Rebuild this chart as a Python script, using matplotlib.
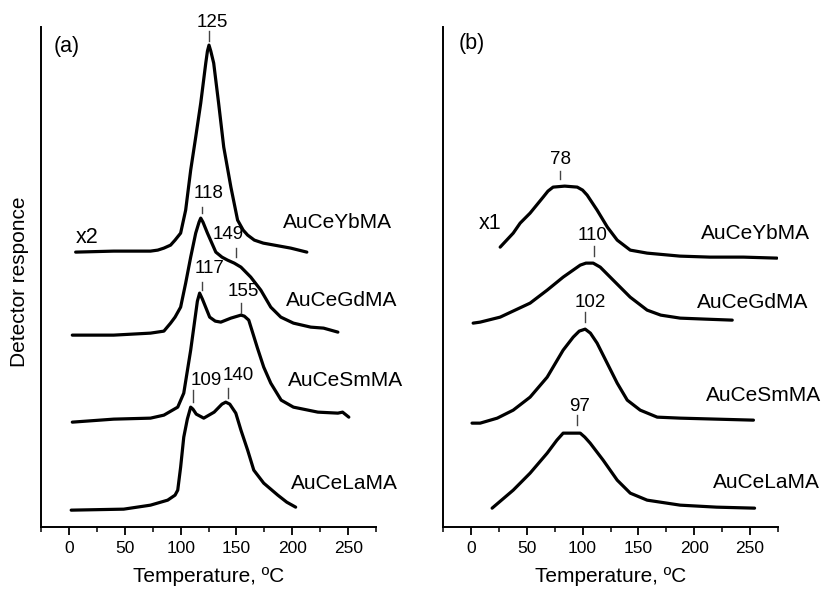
import matplotlib.pyplot as plt

plt.rcParams['font.family'] = ['Liberation Sans', 'DejaVu Sans']

# TPR profiles, panel (a): temperature in C, detector response in arbitrary units
a_yb_t = [6, 40, 73, 79.5, 85, 91, 95, 100, 104.5, 109, 113.5, 118, 122.5, 124, 125.4, 127, 129.6, 134, 138.6, 145, 151, 156, 160, 166, 174, 198.6, 213]
a_yb_y = [275, 276, 276, 277, 279, 282, 287, 294, 317, 357, 390, 424, 464, 476, 482, 476, 464, 424, 380, 340, 307, 297, 292, 287, 284, 279, 275]
a_gd_t = [3, 40, 73, 85, 91, 95, 100, 104.5, 109, 113.5, 116.5, 118, 120, 124, 131.5, 137, 142, 148, 154, 162.8, 171.8, 180.7, 189.7, 201, 216.5, 228, 240.8]
a_gd_y = [192, 192, 194, 196, 204, 210, 220, 244, 270, 294, 305, 309, 305, 294, 275, 270, 267, 264, 260, 250, 237, 220, 210, 204, 200, 199, 195]
a_sm_t = [3, 40, 73, 85, 97.4, 102.8, 109, 115, 117, 119.5, 126, 131, 136, 145, 154, 157, 161, 168.8, 174.4, 180.7, 190, 201, 222.9, 240.8, 245, 250.6]
a_sm_y = [105, 108, 109, 112, 120, 134, 177, 226, 234, 228, 210, 206, 205, 209, 212, 211, 207, 179, 160, 144, 127, 120, 115, 114, 115, 110]
a_la_t = [2, 49, 73, 88.4, 95, 97.4, 100, 102.8, 106, 109, 111, 114, 120.7, 130, 137, 140.4, 144, 149.4, 154, 160, 165.5, 174.4, 187, 195, 203]
a_la_y = [17, 18, 22, 27, 32, 37, 60, 90, 108, 120, 118, 113, 109, 115, 123, 125, 123, 114, 97, 77, 57, 44, 32, 25, 20]

# panel (b)
b_yb_t = [26.2, 37.9, 44.1, 53, 64.7, 69, 73.6, 84, 95.2, 100, 104.1, 113, 122.2, 131, 142.7, 157.8, 187.2, 214, 244, 274]
b_yb_y = [280, 294, 304, 314, 330, 336, 340, 341, 340, 337, 332, 317, 300, 287, 277, 274, 271, 270, 270, 269]
b_gd_t = [2, 8.3, 26.2, 53, 68.3, 82.6, 97.9, 103, 109.5, 115.8, 127.4, 142.6, 157.8, 170, 187.4, 210, 234]
b_gd_y = [204, 205, 210, 224, 237, 250, 262, 264, 264, 260, 247, 230, 217, 212, 209, 208, 207]
b_sm_t = [1, 8.3, 23.6, 37.9, 53, 68.3, 82.6, 91.6, 97, 102.3, 107, 113, 122, 131, 140, 151.6, 166.8, 187.4, 220, 253]
b_sm_y = [104, 104, 109, 117, 130, 150, 177, 190, 196, 198, 194, 184, 164, 144, 127, 117, 110, 109, 108, 107]
b_la_t = [19, 37.9, 53, 68.3, 77, 82.6, 97.9, 102, 106.8, 118.4, 131, 142.7, 157.8, 187.4, 220, 254]
b_la_y = [19, 37, 54, 74, 87, 94, 94, 90, 84, 67, 47, 34, 27, 22, 20, 19]

samples = ["AuCeYbMA", "AuCeGdMA", "AuCeSmMA", "AuCeLaMA"]

# peak labels: text, text x/y, tick x, tick y bottom/top
a_peaks = ["125", "118", "149", "117", "155", "109", "140"]
a_peak_tx = [128, 124.7, 143, 126, 156.5, 123, 152]
a_peak_ty = [505, 334, 293, 259, 236, 147, 152]
a_tick_x = [125, 119, 150, 119.5, 154.5, 111.5, 142]
a_tick_y0 = [486, 314, 270, 237, 214, 125, 129]
a_tick_y1 = [496, 320, 279, 245, 224, 137, 139]
b_peaks = ["78", "110", "102", "97"]
b_peak_tx = [80.4, 108.6, 106.8, 97]
b_peak_ty = [367.5, 292, 225, 121]
b_tick_x = [80, 110.4, 102.4, 95]
b_tick_y0 = [348, 271, 205, 102]
b_tick_y1 = [356, 281, 215, 112]

a_name_x = [240.8, 244, 248, 247]
a_name_y = [305, 227, 147, 44]
b_name_x = [254.5, 252.7, 261.7, 264.4]
b_name_y = [294, 225, 132, 45]

fig = plt.figure(figsize=(8.24, 5.89), dpi=100)
ax1 = fig.add_axes([0.0498, 0.105, 0.4066, 0.849])
ax2 = fig.add_axes([0.5376, 0.105, 0.4066, 0.849])

panels = [
    (ax1, [(a_yb_t, a_yb_y), (a_gd_t, a_gd_y), (a_sm_t, a_sm_y), (a_la_t, a_la_y)],
     a_peaks, a_peak_tx, a_peak_ty, a_tick_x, a_tick_y0, a_tick_y1, a_name_x, a_name_y,
     "(a)", (-2, 481), "x2", (16.3, 290)),
    (ax2, [(b_yb_t, b_yb_y), (b_gd_t, b_gd_y), (b_sm_t, b_sm_y), (b_la_t, b_la_y)],
     b_peaks, b_peak_tx, b_peak_ty, b_tick_x, b_tick_y0, b_tick_y1, b_name_x, b_name_y,
     "(b)", (1.2, 484), "x1", (17.6, 304)),
]

for (ax, curves, peaks, ptx, pty, tkx, tky0, tky1, nx, ny, tag, tagpos, scale, scalepos) in panels:
    for t, y in curves:
        ax.plot(t, y, color='black', linewidth=2.3, solid_joinstyle='round', solid_capstyle='round')
    for lab, x, y in zip(peaks, ptx, pty):
        ax.text(x, y, lab, ha='center', va='center', fontsize=13.5, clip_on=False)
    for x, y0, y1 in zip(tkx, tky0, tky1):
        ax.plot([x, x], [y0, y1], color='#444444', linewidth=1.0)
    for name, x, y in zip(samples, nx, ny):
        ax.text(x, y, name, ha='center', va='center', fontsize=15)
    ax.text(tagpos[0], tagpos[1], tag, ha='center', va='center', fontsize=15.5)
    ax.text(scalepos[0], scalepos[1], scale, ha='center', va='center', fontsize=15.5)

    ax.set_xlim(-25, 275)
    ax.set_ylim(0, 500)
    ax.set_xticks([0, 50, 100, 150, 200, 250])
    ax.set_xticks(range(-25, 276, 25), minor=True)
    ax.set_yticks([])
    ax.spines['top'].set_visible(False)
    ax.spines['right'].set_visible(False)
    ax.spines['left'].set_linewidth(1.4)
    ax.spines['bottom'].set_linewidth(1.4)
    ax.tick_params(axis='x', which='major', direction='out', length=6, width=1.3, labelsize=12.5, pad=4)
    ax.tick_params(axis='x', which='minor', direction='out', length=3.5, width=1.1)
    ax.set_xlabel("Temperature, ºC", fontsize=15, labelpad=8)

fig.text(20 / 824, 1 - 282 / 589, "Detector responce", rotation=90, ha='center', va='center', fontsize=15)

fig.savefig("out.png", dpi=100)
